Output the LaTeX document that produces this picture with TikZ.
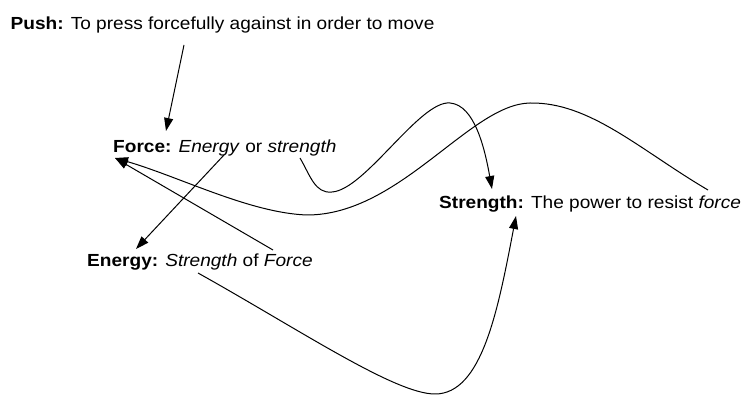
\documentclass[tikz,border=0pt]{standalone}
\usepackage{fontspec}
\setmainfont{Liberation Sans}[FakeStretch=1.09]
\usetikzlibrary{arrows.meta}
\begin{document}
\begin{tikzpicture}[x=1pt,y=-1pt,
  term/.style={anchor=base west,inner sep=0pt,font=\fontsize{17.5}{20}\selectfont},
  link/.style={line width=1pt,-{Triangle[length=13pt,width=9pt]}}]
\useasboundingbox (0,0) rectangle (745,395);
\node[term] (push) at (10.5,30) {\textbf{Push:} To press forcefully against in order to move};
\node[term] (force) at (113,153) {\textbf{Force:} \textit{Energy} or \textit{strength}};
\node[term] (strength) at (439,209) {\textbf{Strength:} The power to resist \textit{force}};
\node[term] (energy) at (87,267) {\textbf{Energy:} \textit{Strength} of \textit{Force}};
% anchor points
\coordinate (pushOut) at (184,45);
\coordinate (forceIn) at (166,131);
\coordinate (forceEnergy) at (224,155);
\coordinate (energyIn) at (136,249);
\coordinate (forceArrow) at (115,158);
\coordinate (energyForce) at (273,250);
\coordinate (strengthForce) at (708,190);
\coordinate (forceStrength) at (300,158);
\coordinate (strengthIn) at (492,189);
\coordinate (energyStrength) at (198,273);
\coordinate (strengthIn2) at (516,216);
% connectors
\draw[link] (pushOut) -- (forceIn);
\draw[link] (forceEnergy) -- (energyIn);
\draw[link] (energyForce) -- (forceArrow);
\draw[link] (strengthForce) .. controls (640,150) and (590,102) .. (530,103)
  .. controls (470,104) and (400,215) .. (307,215)
  .. controls (250,213) and (180,177) .. (forceArrow);
\draw[link] (forceStrength) .. controls (310,175) and (315,194) .. (332,192)
  .. controls (365,190) and (420,100) .. (450,103)
  .. controls (475,105) and (485,150) .. (strengthIn);
\draw[link] (energyStrength) .. controls (300,330) and (395,394) .. (435,394)
  .. controls (482,394) and (498,310) .. (strengthIn2);
\end{tikzpicture}
\end{document}
